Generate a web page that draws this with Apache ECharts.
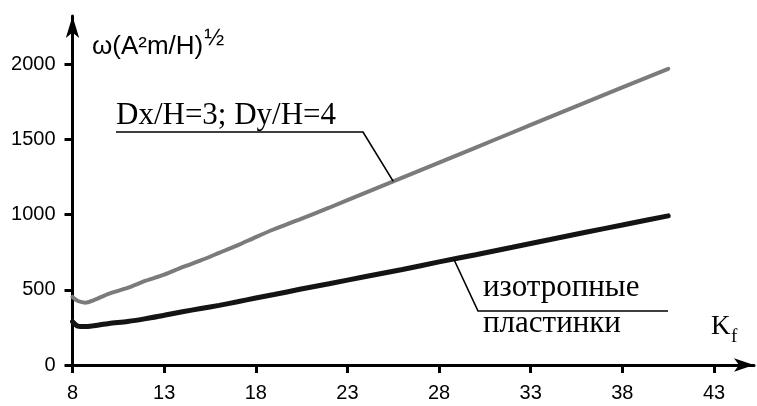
<!DOCTYPE html>
<html>
<head>
<meta charset="utf-8">
<script src="https://cdn.jsdelivr.net/npm/echarts@6/dist/echarts.min.js"></script>
<style>
  html, body { margin: 0; padding: 0; background: #fff; }
  #chart { width: 757px; height: 406px; }
</style>
</head>
<body>
<div id="chart"></div>
<script>
// Stiffness parameter K_f (x) and natural frequency ω (y) for two plate types
const kf = [8, 8.3, 8.7, 9.1, 10, 11, 12, 13, 14, 15, 16, 17, 18, 19, 20.4, 22, 24, 26, 28, 30, 32, 34, 36, 38, 40.5];
const omegaOrtho = [452, 425, 414, 428, 475, 512, 560, 600, 650, 695, 745, 795, 850, 902, 967, 1045, 1145, 1245, 1345, 1445, 1545, 1645, 1745, 1845, 1968];
const omegaIso = [288, 258, 255, 260, 276, 289, 308, 331, 354, 375, 396, 420, 445, 468, 503, 540, 588, 635, 685, 733, 782, 832, 882, 930, 991];

// Axis ticks
const xTickMin = 8, xTickMax = 43, xTickStep = 5;
const yTickMin = 0, yTickMax = 2000, yTickStep = 500;

// Text
const yTitle = 'ω(A²m/H)';
const yTitleSup = '½';
const xTitle = 'K';
const xTitleSub = 'f';
const orthoLabel = 'Dx/H=3; Dy/H=4';
const isoLabel1 = 'изотропные';
const isoLabel2 = 'пластинки';
// Points on the curves where leader lines touch
const orthoLeaderAt = 25.5;
const isoLeaderAt = 28.8;

const SANS = '"Liberation Sans", Arial, sans-serif';
const SERIF = '"Liberation Serif", "Times New Roman", serif';
const INK = '#000';

const chart = echarts.init(document.getElementById('chart'), null, { renderer: 'canvas' });

const pairs = (xs, ys) => xs.map((x, i) => [x, ys[i]]);
const plain = v => String(v);

chart.setOption({
  animation: false,
  backgroundColor: '#fff',
  grid: [
    { left: 72.5, right: 43, top: 64, bottom: 41 },
    { left: 72.5, right: 3, top: 16, bottom: 41 }
  ],
  xAxis: [
    {
      gridIndex: 0, type: 'value', min: xTickMin, max: xTickMax, interval: xTickStep,
      axisLine: { show: false },
      axisTick: { show: true, length: 8, lineStyle: { color: INK, width: 3 } },
      axisLabel: { color: INK, fontFamily: SANS, fontSize: 20, margin: 18, formatter: plain },
      splitLine: { show: false }
    },
    {
      gridIndex: 1, type: 'value', min: 0, max: 1,
      axisLine: { show: true, symbol: ['none', 'arrow'], symbolSize: [10, 20], lineStyle: { color: INK, width: 3 } },
      axisTick: { show: false }, axisLabel: { show: false }, splitLine: { show: false }
    }
  ],
  yAxis: [
    {
      gridIndex: 0, type: 'value', min: yTickMin, max: yTickMax, interval: yTickStep,
      axisLine: { show: false },
      axisTick: { show: true, length: 8, lineStyle: { color: INK, width: 3 } },
      axisLabel: { color: INK, fontFamily: SANS, fontSize: 20, margin: 17, formatter: plain },
      splitLine: { show: false }
    },
    {
      gridIndex: 1, type: 'value', min: 0, max: 1,
      axisLine: { show: true, symbol: ['none', 'arrow'], symbolSize: [10, 22], lineStyle: { color: INK, width: 3 } },
      axisTick: { show: false }, axisLabel: { show: false }, splitLine: { show: false }
    }
  ],
  series: [
    {
      name: orthoLabel, type: 'line', xAxisIndex: 0, yAxisIndex: 0,
      data: pairs(kf, omegaOrtho), showSymbol: false, smooth: 0.25,
      lineStyle: { color: '#7b7b7b', width: 4, cap: 'round' }, z: 3
    },
    {
      name: isoLabel1 + ' ' + isoLabel2, type: 'line', xAxisIndex: 0, yAxisIndex: 0,
      data: pairs(kf, omegaIso), showSymbol: false, smooth: 0.25,
      lineStyle: { color: '#141414', width: 5, cap: 'round' }, z: 3
    }
  ]
});

// Value of a series at a given K_f, linear between stored points
function valueAt(xs, ys, x) {
  for (let i = 1; i < xs.length; i++) {
    if (x <= xs[i]) {
      const t = (x - xs[i - 1]) / (xs[i] - xs[i - 1]);
      return ys[i - 1] + t * (ys[i] - ys[i - 1]);
    }
  }
  return ys[ys.length - 1];
}

const measure = (() => {
  const ctx = document.createElement('canvas').getContext('2d');
  return (text, font) => { ctx.font = font; return ctx.measureText(text).width; };
})();

const orthoTouch = chart.convertToPixel({ gridIndex: 0 }, [orthoLeaderAt, valueAt(kf, omegaOrtho, orthoLeaderAt)]);
const isoTouch = chart.convertToPixel({ gridIndex: 0 }, [isoLeaderAt, valueAt(kf, omegaIso, isoLeaderAt)]);

const titleFont = '26px ' + SANS;
const titleW = measure(yTitle, titleFont);

const thin = { stroke: INK, lineWidth: 1.6 };

chart.setOption({
  graphic: [
    // y-axis title
    { type: 'text', left: 92, top: 34, style: { text: yTitle, font: titleFont, fill: INK } },
    { type: 'text', left: 92 + titleW + 1, top: 26, style: { text: yTitleSup, font: '24px ' + SANS, fill: INK } },
    // x-axis title
    { type: 'text', left: 711, top: 313, style: { text: xTitle, font: '27px ' + SERIF, fill: INK } },
    { type: 'text', left: 731, top: 328, style: { text: xTitleSub, font: '19px ' + SERIF, fill: INK } },
    // orthotropic label with leader
    { type: 'text', left: 116, top: 100, style: { text: orthoLabel, font: '31px ' + SERIF, fill: INK } },
    { type: 'polyline', shape: { points: [[116, 132], [363, 132], orthoTouch] }, style: thin, z: 10 },
    // isotropic label with leader
    { type: 'text', left: 483, top: 272, style: { text: isoLabel1, font: '31px ' + SERIF, fill: INK } },
    { type: 'text', left: 483, top: 308, style: { text: isoLabel2, font: '31px ' + SERIF, fill: INK } },
    { type: 'polyline', shape: { points: [[668, 311], [478, 311], isoTouch] }, style: thin, z: 10 }
  ]
});
</script>
</body>
</html>
